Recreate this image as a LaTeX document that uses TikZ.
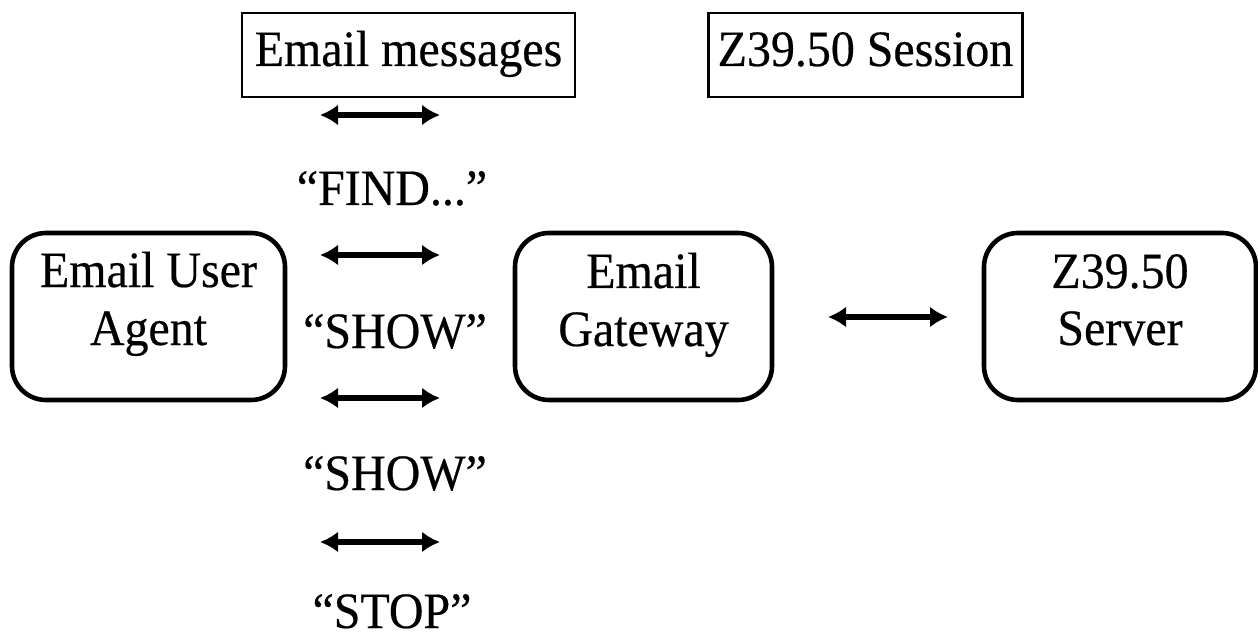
\documentclass[tikz,border=0pt]{standalone}
\usepackage{fontspec}
\setmainfont[FakeStretch=0.94,FakeBold=0.4]{Liberation Serif}
\usetikzlibrary{arrows.meta}
\begin{document}
\begin{tikzpicture}[x=0.5pt,y=-0.5pt,
  every node/.style={font=\fontsize{25.5}{29}\selectfont},
  plainbox/.style={draw,line width=1.2pt,inner sep=0pt},
  roundbox/.style={draw,line width=2.3pt,rounded corners=17pt,inner sep=0pt,minimum height=83.5pt},
  lbl/.style={inner sep=0pt,anchor=base},
  dbl/.style={line width=3pt,{Latex[length=9pt,width=10.5pt]}-{Latex[length=9pt,width=10.5pt]}}]
\useasboundingbox (0,0) rectangle (1258,636);
% top plain boxes
\node[plainbox,minimum width=166.5pt,minimum height=42pt] (em) at (408.5,55) {};
\node[lbl] (emt) at (408.5,66) {Email messages};
\node[plainbox,minimum width=157pt,minimum height=42pt] (zs) at (865.5,55) {};
\node[lbl] (zst) at (865.5,66) {Z39.50 Session};
% rounded boxes
\node[roundbox,minimum width=136.5pt] (ua) at (148.5,316.5) {};
\node[lbl] (ua1) at (148.5,287) {Email User};
\node[lbl] (ua2) at (148.5,345) {Agent};
\node[roundbox,minimum width=128.5pt] (gw) at (643.5,316.5) {};
\node[lbl] (gw1) at (643.5,288) {Email};
\node[lbl] (gw2) at (643.5,346) {Gateway};
\node[roundbox,minimum width=136pt] (sv) at (1120,316.5) {};
\node[lbl] (sv1) at (1120,288) {Z39.50};
\node[lbl] (sv2) at (1120,345) {Server};
% message labels
\node[lbl] (find) at (392,205) {“FIND...”};
\node[lbl] (show1) at (395,348) {“SHOW”};
\node[lbl] (show2) at (395,490) {“SHOW”};
\node[lbl] (stop) at (392,628) {“STOP”};
% arrows
\coordinate (a1l) at (320,115); \coordinate (a1r) at (440,115);
\coordinate (a2l) at (320,255); \coordinate (a2r) at (440,255);
\coordinate (a3l) at (320,398); \coordinate (a3r) at (440,398);
\coordinate (a4l) at (320,542); \coordinate (a4r) at (440,542);
\coordinate (a5l) at (828,317); \coordinate (a5r) at (948,317);
\draw[dbl] (a1l) -- (a1r);
\draw[dbl] (a2l) -- (a2r);
\draw[dbl] (a3l) -- (a3r);
\draw[dbl] (a4l) -- (a4r);
\draw[dbl] (a5l) -- (a5r);
\end{tikzpicture}
\end{document}
